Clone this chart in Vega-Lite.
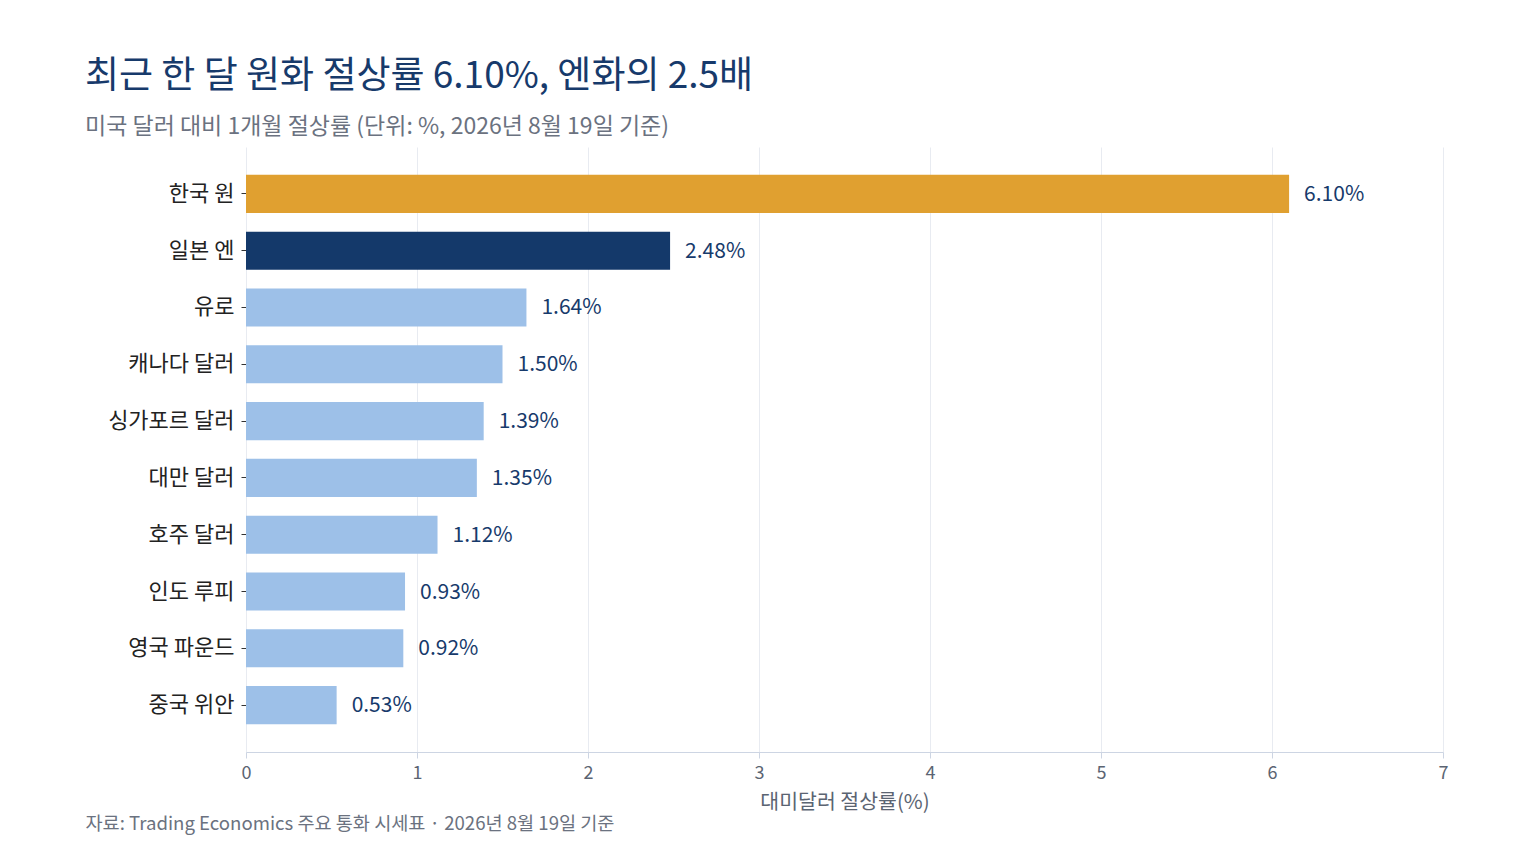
{
  "$schema": "https://vega.github.io/schema/vega-lite/v6.json",
  "autosize": {"type": "none"},
  "padding": {"left": 246, "top": 147, "right": 93, "bottom": 112},
  "width": 1197,
  "height": 605,
  "background": "white",
  "config": {
    "font": "Noto Sans CJK KR",
    "view": {"stroke": null}
  },
  "title": {
    "text": "최근 한 달 원화 절상률 6.10%, 엔화의 2.5배",
    "subtitle": "미국 달러 대비 1개월 절상률 (단위: %, 2026년 8월 19일 기준)",
    "anchor": "start",
    "frame": "group",
    "dx": -161,
    "offset": 7,
    "fontSize": 37,
    "fontWeight": "normal",
    "color": "#173a6b",
    "subtitleFontSize": 23,
    "subtitleColor": "#6b7280",
    "subtitlePadding": 20
  },
  "data": {
    "values": [
      {"currency": "한국 원", "rate": 6.10, "group": "KRW"},
      {"currency": "일본 엔", "rate": 2.48, "group": "JPY"},
      {"currency": "유로", "rate": 1.64, "group": "other"},
      {"currency": "캐나다 달러", "rate": 1.50, "group": "other"},
      {"currency": "싱가포르 달러", "rate": 1.39, "group": "other"},
      {"currency": "대만 달러", "rate": 1.35, "group": "other"},
      {"currency": "호주 달러", "rate": 1.12, "group": "other"},
      {"currency": "인도 루피", "rate": 0.93, "group": "other"},
      {"currency": "영국 파운드", "rate": 0.92, "group": "other"},
      {"currency": "중국 위안", "rate": 0.53, "group": "other"}
    ]
  },
  "encoding": {
    "y": {
      "field": "currency",
      "type": "nominal",
      "sort": ["한국 원", "일본 엔", "유로", "캐나다 달러", "싱가포르 달러", "대만 달러", "호주 달러", "인도 루피", "영국 파운드", "중국 위안"],
      "title": null,
      "scale": {"paddingInner": 0.33, "paddingOuter": 0.49},
      "axis": {
        "domain": false,
        "ticks": true,
        "tickSize": 5,
        "tickColor": "#333333",
        "labelFontSize": 22,
        "labelColor": "#222222",
        "labelPadding": 7
      }
    }
  },
  "layer": [
    {
      "mark": {"type": "bar"},
      "encoding": {
        "x": {
          "field": "rate",
          "type": "quantitative",
          "scale": {"domain": [0, 7], "nice": false},
          "title": "대미달러 절상률(%)",
          "axis": {
            "orient": "bottom",
            "values": [0, 1, 2, 3, 4, 5, 6, 7],
            "grid": true,
            "gridColor": "#e8ebf1",
            "domainColor": "#cdd5e3",
            "tickColor": "#cdd5e3",
            "tickSize": 6,
            "labelFlush": false,
            "labelFontSize": 18,
            "labelColor": "#5b6472",
            "labelPadding": 6,
            "titleFontSize": 20.5,
            "titleFontWeight": "normal",
            "titleColor": "#5b6472",
            "titlePadding": 10
          }
        },
        "color": {
          "field": "group",
          "type": "nominal",
          "legend": null,
          "scale": {
            "domain": ["KRW", "JPY", "other"],
            "range": ["#e0a030", "#14396a", "#9dc0e8"]
          }
        }
      }
    },
    {
      "transform": [
        {"calculate": "format(datum.rate, '.2f') + '%'", "as": "label"}
      ],
      "mark": {
        "type": "text",
        "align": "left",
        "baseline": "middle",
        "dx": 15,
        "dy": 1,
        "fontSize": 21,
        "color": "#173a6b"
      },
      "encoding": {
        "x": {
          "field": "rate",
          "type": "quantitative",
          "title": "자료: Trading Economics 주요 통화 시세표 · 2026년 8월 19일 기준",
          "axis": {
            "orient": "bottom",
            "grid": false,
            "labels": false,
            "ticks": false,
            "domain": false,
            "titleFontSize": 18.6,
            "titleFontWeight": "normal",
            "titleColor": "#6b7280",
            "titleAnchor": "start",
            "titleAlign": "left",
            "titleBaseline": "alphabetic",
            "titleX": -161,
            "titleY": 77
          }
        },
        "text": {"field": "label"}
      }
    }
  ],
  "resolve": {"axis": {"x": "independent"}}
}
